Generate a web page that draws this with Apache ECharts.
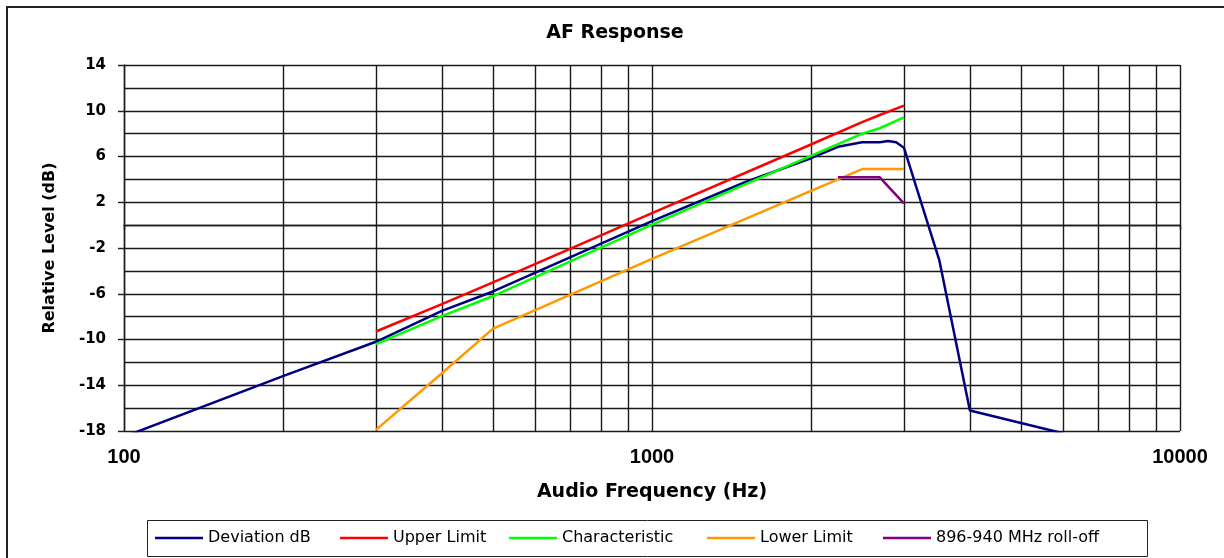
<!DOCTYPE html>
<html>
<head>
<meta charset="utf-8">
<title>AF Response</title>
<script src="https://cdn.jsdelivr.net/npm/echarts@6/dist/echarts.min.js"></script>
<style>
  html, body { margin: 0; padding: 0; background: #ffffff; }
  #chart { width: 1224px; height: 558px; }
</style>
</head>
<body>
<div id="chart"></div>
<script>
// Measured deviation curve (Hz -> dB)
const devFreq = [100, 200, 300, 400, 500, 1000, 1500, 2000, 2250, 2500, 2700, 2800, 2900, 3000, 3500, 4000, 6000];
const devDb   = [-18.5, -13.2, -10.2, -7.5, -5.8, 0.35, 3.75, 5.85, 6.85, 7.24, 7.24, 7.36, 7.24, 6.77, -3.05, -16.2, -18.2];

// Pre-emphasis characteristic and its tolerance limits
const upperFreq = [300, 400, 500, 1000, 2000, 2500, 2700, 3000];
const upperDb   = [-9.3, -6.9, -5.0, 1.05, 7.05, 9.0, 9.63, 10.45];

const charFreq = [300, 400, 500, 1000, 2000, 2500, 2700, 3000];
const charDb   = [-10.4, -7.95, -6.2, 0.05, 6.05, 8.0, 8.47, 9.43];

const lowerFreq = [300, 400, 500, 1000, 2000, 2500, 3000];
const lowerDb   = [-17.9, -12.95, -9.05, -2.95, 3.0, 4.9, 4.9];

// 896-940 MHz band roll-off
const rollFreq = [2250, 2700, 3000];
const rollDb   = [4.18, 4.18, 1.91];

// Intermediate log-decade grid lines (Hz)
const gridFreqs = [200, 300, 400, 500, 600, 700, 800, 900, 2000, 3000, 4000, 5000, 6000, 7000, 8000, 9000];

// Axis ranges
const yMin = -18, yMax = 14, yStep = 4;
const xMin = 100, xMax = 10000;

const seriesNames = ['Deviation dB', 'Upper Limit', 'Characteristic', 'Lower Limit', '896-940 MHz roll-off'];
const seriesColors = ['#000080', '#ff0000', '#00ff00', '#ff9900', '#800080'];

function pairs(f, v) { return f.map((x, i) => [x, v[i]]); }

const curves = [
  pairs(devFreq, devDb),
  pairs(upperFreq, upperDb),
  pairs(charFreq, charDb),
  pairs(lowerFreq, lowerDb),
  pairs(rollFreq, rollDb)
];

const GRID_COLOR = '#1a1a1a';
const GRID_WIDTH = 1.4;
const legendX = [155, 340, 509, 707, 883];

const series = curves.map((d, i) => ({
  name: seriesNames[i],
  type: 'line',
  data: d,
  symbol: 'none',
  showSymbol: false,
  clip: true,
  z: 10,
  color: seriesColors[i],
  lineStyle: { color: seriesColors[i], width: 2.5 },
  emphasis: { disabled: true },
  animation: false
}));

// vertical minor grid lines at 2..9 within each decade
series[0].markLine = {
  silent: true,
  z: 1,
  symbol: 'none',
  animation: false,
  label: { show: false },
  emphasis: { disabled: true },
  lineStyle: { color: GRID_COLOR, width: GRID_WIDTH, type: 'solid' },
  data: gridFreqs.map(f => ({ xAxis: f }))
};

const legends = seriesNames.map((n, i) => ({
  data: [n],
  left: legendX[i],
  top: 530,
  orient: 'horizontal',
  padding: 0,
  icon: 'rect',
  itemWidth: 48,
  itemHeight: 2.5,
  selectedMode: false,
  textStyle: { fontFamily: 'DejaVu Sans', fontSize: 16, color: '#000' }
}));

const chart = echarts.init(document.getElementById('chart'), null, { renderer: 'canvas' });

chart.setOption({
  backgroundColor: '#ffffff',
  animation: false,
  grid: {
    left: 124, top: 65, width: 1056, height: 366,
    containLabel: false,
    outerBoundsMode: 'none'
  },
  legend: legends,
  xAxis: {
    type: 'log',
    logBase: 10,
    min: xMin,
    max: xMax,
    name: 'Audio Frequency (Hz)',
    nameLocation: 'middle',
    nameGap: 52,
    nameTextStyle: { fontFamily: 'DejaVu Sans', fontWeight: 'bold', fontSize: 19, color: '#000' },
    axisLine: { show: true, lineStyle: { color: GRID_COLOR, width: GRID_WIDTH } },
    axisTick: { show: true, length: 5, lineStyle: { color: GRID_COLOR, width: GRID_WIDTH } },
    axisLabel: {
      margin: 16,
      fontFamily: 'Liberation Sans',
      fontWeight: 'bold',
      fontSize: 20,
      color: '#000',
      formatter: v => String(Math.round(v))
    },
    splitLine: { show: true, lineStyle: { color: GRID_COLOR, width: GRID_WIDTH } },
    minorTick: { show: false },
    minorSplitLine: { show: false }
  },
  yAxis: {
    type: 'value',
    min: yMin,
    max: yMax,
    interval: yStep,
    name: 'Relative Level (dB)',
    nameLocation: 'middle',
    nameGap: 66,
    nameTextStyle: { fontFamily: 'DejaVu Sans', fontWeight: 'bold', fontSize: 16, color: '#000' },
    axisLine: { show: true, lineStyle: { color: GRID_COLOR, width: GRID_WIDTH } },
    axisTick: { show: true, length: 6, lineStyle: { color: GRID_COLOR, width: GRID_WIDTH } },
    axisLabel: {
      margin: 18,
      fontFamily: 'DejaVu Sans',
      fontWeight: 'bold',
      fontSize: 15,
      color: '#000'
    },
    splitLine: { show: true, lineStyle: { color: GRID_COLOR, width: GRID_WIDTH } },
    minorTick: { show: false, splitNumber: 2 },
    minorSplitLine: { show: true, lineStyle: { color: GRID_COLOR, width: GRID_WIDTH } }
  },
  graphic: [
    {
      type: 'rect',
      silent: true,
      z: -1,
      shape: { x: 7, y: 7, width: 1240, height: 580 },
      style: { fill: 'none', stroke: '#222', lineWidth: 2 }
    },
    {
      type: 'rect',
      silent: true,
      shape: { x: 147.5, y: 520.5, width: 1000, height: 36 },
      style: { fill: 'none', stroke: '#222', lineWidth: 1 }
    },
    {
      type: 'text',
      silent: true,
      x: 615,
      y: 33,
      style: {
        text: 'AF Response',
        align: 'center',
        verticalAlign: 'middle',
        fontFamily: 'DejaVu Sans',
        fontWeight: 'bold',
        fontSize: 19,
        fill: '#000'
      }
    }
  ],
  series: series
});
</script>
</body>
</html>
